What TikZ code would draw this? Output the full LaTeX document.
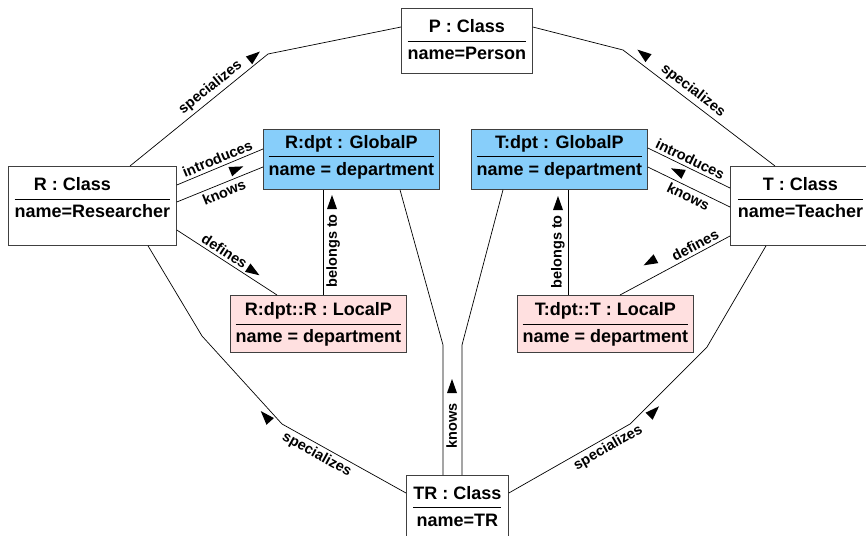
\documentclass[tikz,border=0pt]{standalone}
\usepackage{fontspec}
\setmainfont{Liberation Sans}
\usetikzlibrary{calc,decorations.markings}

\definecolor{globalblue}{RGB}{135,206,250}
\definecolor{localpink}{RGB}{255,224,224}

\renewcommand{\arraystretch}{1.25}
\setlength{\arrayrulewidth}{0.8pt}
\newcommand{\objtext}[3][0pt]{%
  \begin{tabular}{@{}c@{}}#2\\\hline #3\\[#1]\end{tabular}}

\tikzset{
  objbox/.style={draw=black!75, line width=0.8pt, fill=white, anchor=north west,
    inner sep=0pt, font=\fontsize{18}{21}\selectfont\bfseries},
  globalp/.style={objbox, fill=globalblue},
  localp/.style={objbox, fill=localpink},
  assoc/.style={draw, line width=0.7pt},
  lbl/.style={font=\fontsize{14.5}{16}\selectfont\bfseries, sloped, inner sep=3pt},
  dirhead/.style n args={3}{postaction={decorate,decoration={markings,
    mark=at position #1 with {\fill[xscale=#3] (7pt,#2) -- (-7pt,#2+5pt) -- (-7pt,#2-5pt) -- cycle;}}}}
}

\begin{document}
\begin{tikzpicture}[x=1pt, y=-1pt]
  \useasboundingbox (0,0) rectangle (866,535);

  % objects
  \node[objbox, minimum width=131pt, minimum height=65pt] (P) at (401,8) {\objtext{P : Class}{name=Person}};
  \node[objbox, minimum width=168pt, minimum height=79pt] (R) at (8,166) {\objtext[14pt]{R : Class\hspace*{40pt}}{name=Researcher}};
  \node[objbox, minimum width=140pt, minimum height=79pt] (T) at (730,166) {\objtext[14pt]{T : Class}{name=Teacher}};
  \node[globalp, minimum width=176pt, minimum height=60pt] (Rg) at (263,129) {\objtext[6pt]{R:dpt : GlobalP}{name = department}};
  \node[globalp, minimum width=176pt, minimum height=60pt] (Tg) at (471,129) {\objtext[6pt]{T:dpt : GlobalP}{name = department}};
  \node[localp, minimum width=176pt, minimum height=57pt] (Rl) at (230,295) {\objtext{R:dpt::R : LocalP}{name = department}};
  \node[localp, minimum width=176pt, minimum height=57pt] (Tl) at (517,295) {\objtext{T:dpt::T : LocalP}{name = department}};
  \node[objbox, minimum width=102pt, minimum height=64pt] (TR) at (406,475) {\objtext{TR : Class}{name=TR}};

  % bends
  \coordinate (rpBend) at (268,54);
  \coordinate (tpBend) at (623,50);
  \coordinate (rkBend) at (443,345);
  \coordinate (tkBend) at (462,345);
  \coordinate (rtBendA) at (202,336);
  \coordinate (rtBendB) at (282,424);
  \coordinate (ttBendA) at (707,347);
  \coordinate (ttBendB) at (630,424);

  % specializes P
  \draw[assoc, dirhead={166pt}{7pt}{1}] ($(R.north west)+(122,0)$) -- node[lbl, above, pos=0.63] {specializes} (rpBend) -- ($(P.north west)+(0,19)$);
  \draw[assoc, dirhead={173pt}{-9pt}{1}] ($(T.north west)+(45,0)$) -- node[lbl, above, pos=0.58] {specializes} (tpBend) -- ($(P.north east)+(0,19)$);

  % introduces / knows
  \draw[assoc] ($(R.north east)+(0,19)$) -- node[lbl, above, pos=0.51] {introduces} ($(Rg.north west)+(0,20)$);
  \draw[assoc, dirhead={68pt}{8pt}{1}] ($(R.north east)+(0,36)$) -- node[lbl, below, pos=0.51] {knows} ($(Rg.north west)+(0,38)$);
  \draw[assoc] ($(T.north west)+(0,22)$) -- node[lbl, above, pos=0.53] {introduces} ($(Tg.north east)+(0,19)$);
  \draw[assoc, dirhead={63pt}{-9pt}{1}] ($(T.north west)+(0,41)$) -- node[lbl, below, pos=0.46] {knows} ($(Tg.north east)+(0,38)$);

  % defines
  \draw[assoc, dirhead={87pt}{7pt}{1}] ($(R.north east)+(0,64)$) -- node[lbl, above, pos=0.43] {defines} ($(Rl.north west)+(47,0)$);
  \draw[assoc, dirhead={83pt}{-15pt}{1}] ($(T.north west)+(0,70)$) -- node[lbl, above, pos=0.28] {defines} ($(Tl.north west)+(103,0)$);

  % belongs to
  \draw[assoc, dirhead={93pt}{-9pt}{1}] ($(Rl.north west)+(93,0)$) -- node[lbl, below, pos=0.42] {belongs to} ($(Rg.south west)+(60,0)$);
  \draw[assoc, dirhead={92pt}{10pt}{1}] ($(Tl.north west)+(51,0)$) -- node[lbl, above, pos=0.41] {belongs to} ($(Tg.south west)+(97,0)$);

  % knows (TR)
  \draw[assoc, dirhead={89pt}{-9pt}{1}] ($(TR.north west)+(37,0)$) -- node[lbl, below, pos=0.38] {knows} (rkBend) -- ($(Rg.south west)+(137,0)$);
  \draw[assoc] ($(TR.north west)+(56,0)$) -- (tkBend) -- ($(Tg.south west)+(32,0)$);

  % specializes TR
  \draw[assoc, dirhead={207pt}{-7pt}{-1}] ($(R.south west)+(140,0)$) -- (rtBendA) -- (rtBendB) -- node[lbl, below, pos=0.32] {specializes} ($(TR.north west)+(0,18)$);
  \draw[assoc, dirhead={200pt}{8pt}{-1}] ($(T.south west)+(36,0)$) -- (ttBendA) -- (ttBendB) -- node[lbl, below, pos=0.22] {specializes} ($(TR.north east)+(0,18)$);
\end{tikzpicture}
\end{document}
